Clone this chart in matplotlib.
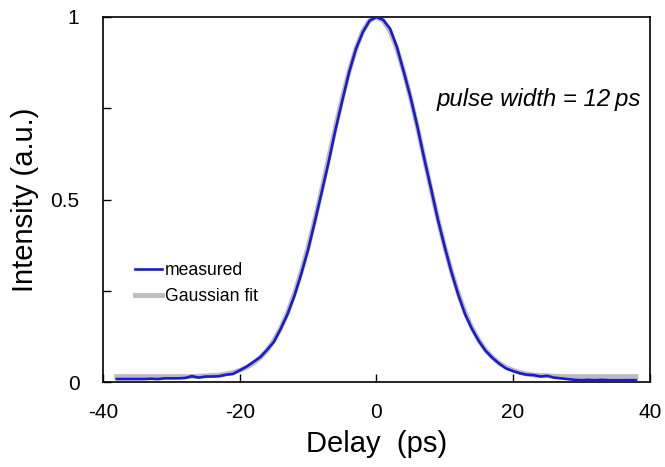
import matplotlib
matplotlib.use("Agg")
import matplotlib.pyplot as plt
from matplotlib.ticker import MultipleLocator

plt.rcParams['font.family'] = ['Liberation Sans', 'DejaVu Sans']
plt.rcParams['axes.unicode_minus'] = False

delay = list(range(-38, 39))
measured = [0.008, 0.008, 0.008, 0.008, 0.008, 0.009, 0.008, 0.010, 0.010, 0.010,
            0.011, 0.016, 0.012, 0.015, 0.015, 0.016, 0.020, 0.022, 0.032, 0.042,
            0.055, 0.068, 0.088, 0.110, 0.146, 0.186, 0.236, 0.296, 0.362, 0.440,
            0.520, 0.602, 0.690, 0.770, 0.848, 0.912, 0.958, 0.990, 1.000,
            0.992, 0.968, 0.918, 0.850, 0.780, 0.700, 0.612, 0.530, 0.445, 0.370,
            0.300, 0.238, 0.185, 0.145, 0.112, 0.085, 0.066, 0.050, 0.037, 0.030,
            0.024, 0.020, 0.019, 0.015, 0.017, 0.012, 0.010, 0.008, 0.006, 0.005,
            0.006, 0.005, 0.006, 0.005, 0.005, 0.005, 0.005, 0.005]
fit_right = [1.000, 0.990, 0.961, 0.913, 0.851, 0.778, 0.698, 0.613, 0.527, 0.446,
             0.370, 0.302, 0.242, 0.190, 0.148, 0.114, 0.087, 0.067, 0.051, 0.040,
             0.032, 0.026, 0.022, 0.019, 0.018, 0.017, 0.016, 0.015, 0.015, 0.015,
             0.015, 0.015, 0.015, 0.015, 0.015, 0.015, 0.015, 0.015, 0.015]
gaussian_fit = fit_right[:0:-1] + fit_right

xticks = [-40, -20, 0, 20, 40]
yticks = [0, 0.5, 1]
ytick_labels = ['0', '0.5', '1']

fig = plt.figure(figsize=(6.65, 4.67), dpi=100)
ax = fig.add_axes([0.155, 0.182, 0.822, 0.7816])

ax.plot(delay, gaussian_fit, color='#bdbdbd', lw=3.5, label='Gaussian fit', zorder=2)
ax.plot(delay, measured, color='#1a1ad0', lw=1.9, label='measured', zorder=3)

ax.set_xlim(-40, 40)
ax.set_ylim(0, 1)
ax.set_xticks(xticks)
ax.set_xticklabels([str(t) for t in xticks])
ax.set_yticks(yticks)
ax.set_yticklabels(ytick_labels)
ax.yaxis.set_minor_locator(MultipleLocator(0.25))
ax.tick_params(axis='both', which='both', direction='in', length=6, width=1,
               labelsize=15, top=False, right=False)
ax.tick_params(axis='x', pad=15)
ax.tick_params(axis='y', pad=17)
for s in ax.spines.values():
    s.set_linewidth(1.2)

ax.set_xlabel('Delay  (ps)', fontsize=21, labelpad=6)
ax.set_ylabel('Intensity (a.u.)', fontsize=21, labelpad=8)

ax.text(8.8, 0.773, 'pulse width = 12\u2009ps', fontsize=17.3, style='italic',
        ha='left', va='center')

h, l = ax.get_legend_handles_labels()
ax.legend(h[::-1], l[::-1], loc='center left', bbox_to_anchor=(0.058, 0.27),
          frameon=False, fontsize=12.7, handlelength=1.55, handletextpad=0.15,
          labelspacing=0.5, borderpad=0, borderaxespad=0)

fig.savefig('out.png', dpi=100)
